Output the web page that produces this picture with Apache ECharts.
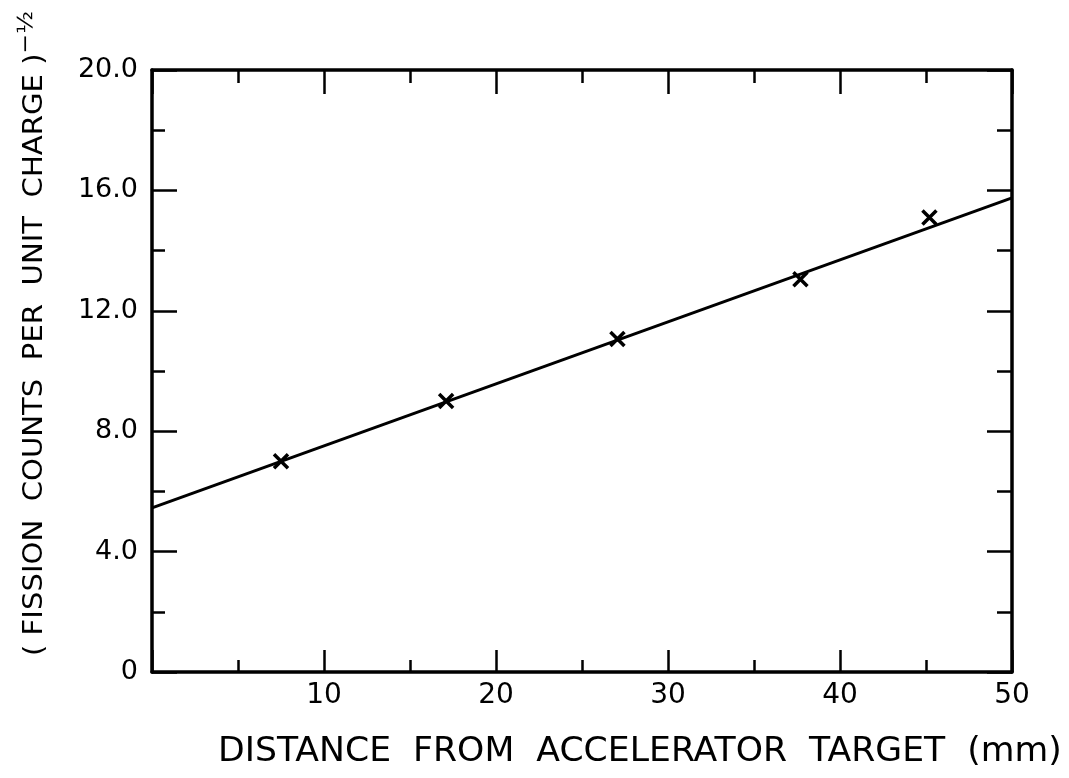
<!DOCTYPE html>
<html>
<head>
<meta charset="utf-8">
<script src="https://cdn.jsdelivr.net/npm/echarts@6/dist/echarts.min.js"></script>
<style>
html,body{margin:0;padding:0;background:#fff;}
#c{width:1069px;height:778px;}
</style>
</head>
<body>
<div id="c"></div>
<script>
// Data
const pointX = [7.5, 17.1, 27.06, 37.7, 45.2];
const pointY = [7.0, 9.0, 11.06, 13.05, 15.1];
const fitX = [0, 50];
const fitY = [5.45, 15.75];
const xTickLabels = ['', '10', '20', '30', '40', '50'];
const yTickLabels = ['0', '4.0', '8.0', '12.0', '16.0', '20.0'];
const xTitle = 'DISTANCE  FROM  ACCELERATOR  TARGET  (mm)';
const yTitle = '( FISSION  COUNTS  PER  UNIT  CHARGE )';

const points = pointX.map((x, i) => [x, pointY[i]]);
const fit = fitX.map((x, i) => [x, fitY[i]]);

const FONT = 'DejaVu Sans';
const axisLine = {show: true, onZero: false, lineStyle: {color: '#000', width: 3.5}};

const chart = echarts.init(document.getElementById('c'), null, {renderer: 'canvas'});
chart.setOption({
  backgroundColor: '#ffffff',
  animation: false,
  grid: {left: 152, right: 57, top: 70, bottom: 106},
  xAxis: [{
    type: 'value', min: 0, max: 50, interval: 10, position: 'bottom',
    axisLine: axisLine,
    axisTick: {show: true, inside: true, length: 22, lineStyle: {color: '#000', width: 2.5}},
    minorTick: {show: true, splitNumber: 2, length: 12, lineStyle: {color: '#000', width: 2.5}},
    splitLine: {show: false},
    axisLabel: {
      margin: 10, color: '#000', fontFamily: FONT, fontSize: 28,
      formatter: function (v) { return xTickLabels[Math.round(v / 10)]; }
    }
  }, {
    type: 'value', min: 0, max: 50, interval: 10, position: 'top',
    axisLine: axisLine,
    axisTick: {show: true, inside: true, length: 24, lineStyle: {color: '#000', width: 2.5}},
    minorTick: {show: true, splitNumber: 2, length: 13, lineStyle: {color: '#000', width: 2.5}},
    splitLine: {show: false},
    axisLabel: {show: false}
  }],
  yAxis: [{
    type: 'value', min: 0, max: 20, interval: 4, position: 'left',
    axisLine: axisLine,
    axisTick: {show: true, inside: true, length: 25, lineStyle: {color: '#000', width: 2.5}},
    minorTick: {show: true, splitNumber: 2, length: 13, lineStyle: {color: '#000', width: 2.5}},
    splitLine: {show: false},
    axisLabel: {
      margin: 14, color: '#000', fontFamily: FONT, fontSize: 27,
      formatter: function (v) { return yTickLabels[Math.round(v / 4)]; }
    }
  }, {
    type: 'value', min: 0, max: 20, interval: 4, position: 'right',
    axisLine: axisLine,
    axisTick: {show: true, inside: true, length: 25, lineStyle: {color: '#000', width: 2.5}},
    minorTick: {show: true, splitNumber: 2, length: 15, lineStyle: {color: '#000', width: 2.5}},
    splitLine: {show: false},
    axisLabel: {show: false}
  }],
  series: [{
    type: 'line', data: fit, xAxisIndex: 0, yAxisIndex: 0,
    showSymbol: false, symbol: 'none',
    lineStyle: {color: '#000', width: 3}, z: 2
  }, {
    type: 'scatter', data: points, xAxisIndex: 0, yAxisIndex: 0,
    symbol: 'path://M0,0L10,10M10,0L0,10', symbolSize: 14,
    itemStyle: {color: '#000', borderColor: '#000', borderWidth: 3.5, opacity: 1},
    z: 3
  }],
  graphic: [{
    type: 'text', x: 218, y: 736, scaleX: 1.05,
    style: {text: xTitle, fill: '#000', font: '33px "DejaVu Sans"'}
  }, {
    type: 'text', x: 16, y: 656, rotation: Math.PI / 2, scaleX: 1.12,
    style: {
      text: '{a|' + yTitle + '}{s|−½}',
      rich: {
        a: {fill: '#000', fontFamily: FONT, fontSize: 26},
        s: {fill: '#000', fontFamily: FONT, fontSize: 21, padding: [0, 0, 18, 0]}
      }
    }
  }]
});
</script>
</body>
</html>
